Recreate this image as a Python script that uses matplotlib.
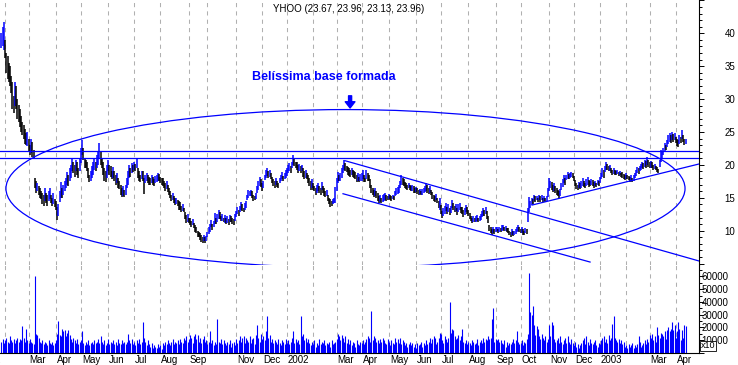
import numpy as np
import matplotlib
matplotlib.use("Agg")
import matplotlib.pyplot as plt
from matplotlib.patches import Ellipse

plt.rcParams['font.family'] = ['Liberation Sans', 'DejaVu Sans']

# daily highs / lows of YHOO, late Jan 2001 .. Apr 2003 (trading-day index)
hi = [40.0, 41.0, 41.7, 39.0, 37.0, 36.5, 35.5, 35.0, 33.5, 32.6,
      30.5, 32.6, 32.0, 30.0, 29.1, 28.5, 27.5, 26.5, 26.0, 25.5,
      24.8, 25.0, 24.0, 23.0, 24.0, 23.5, 22.2, 18.0, 17.5, 17.3,
      16.8, 16.5, 16.0, 15.8, 15.5, 16.5, 15.8, 15.5, 16.0, 16.5,
      15.5, 15.0, 15.8, 14.8, 14.5, 13.6, 14.0, 16.0, 17.4, 16.5,
      17.0, 17.5, 18.0, 18.9, 18.5, 19.5, 20.0, 21.0, 20.5, 20.0,
      20.8, 20.5, 19.5, 21.0, 22.5, 23.8, 22.5, 21.0, 20.8, 20.5,
      19.5, 18.5, 19.0, 19.8, 20.5, 21.0, 20.5, 21.5, 22.0, 23.3,
      22.0, 21.0, 20.5, 19.5, 19.0, 20.0, 20.7, 20.0, 19.8, 19.0,
      19.7, 19.0, 18.5, 18.8, 18.0, 17.5, 17.0, 16.5, 16.8, 16.2,
      17.0, 18.0, 19.0, 20.0, 19.5, 20.3, 20.0, 20.5, 20.2, 21.0,
      19.5, 19.0, 18.5, 19.0, 19.0, 18.0, 18.5, 18.8, 18.5, 18.2,
      18.0, 18.5, 18.2, 17.8, 18.3, 18.5, 18.8, 18.6, 18.2, 18.0,
      18.0, 17.5, 17.2, 17.5, 17.0, 16.5, 16.0, 15.5, 15.8, 15.2,
      15.0, 15.0, 14.7, 14.5, 14.4, 13.8, 14.0, 13.5, 12.8, 12.4,
      12.5, 12.0, 11.9, 11.5, 11.8, 11.2, 10.9, 10.5, 10.0, 9.8,
      9.6, 9.3, 9.0, 9.4, 9.0, 9.2, 9.8, 10.5, 11.0, 11.6,
      11.0, 11.5, 12.7, 12.0, 12.5, 13.2, 12.8, 12.2, 12.5, 12.0,
      12.4, 12.0, 12.3, 11.8, 12.4, 12.2, 12.0, 11.8, 12.5, 13.0,
      13.6, 13.2, 13.8, 14.4, 14.0, 13.5, 14.2, 14.5, 15.5, 16.2,
      16.0, 16.2, 16.0, 15.5, 15.2, 15.8, 16.8, 17.5, 18.2, 17.8,
      17.2, 17.6, 18.5, 19.2, 19.5, 19.0, 19.3, 18.8, 18.2, 17.8,
      17.5, 18.0, 17.6, 17.3, 18.0, 18.5, 18.9, 18.3, 18.8, 19.2,
      19.5, 20.0, 20.3, 19.8, 20.5, 21.5, 21.0, 20.5, 20.5, 20.0,
      20.2, 19.8, 20.0, 19.5, 19.0, 19.3, 18.8, 18.5, 18.0, 17.5,
      17.8, 17.2, 16.8, 16.5, 17.0, 17.2, 16.8, 16.5, 17.4, 16.8,
      16.5, 16.0, 16.2, 15.4, 15.0, 14.8, 14.5, 14.8, 15.0, 16.7,
      18.0, 18.9, 18.5, 18.8, 19.5, 20.0, 20.7, 20.3, 19.8, 19.7,
      19.5, 19.2, 19.6, 19.3, 19.0, 18.9, 18.5, 18.8, 18.2, 18.6,
      18.8, 19.2, 18.5, 18.0, 19.2, 18.8, 18.5, 17.8, 17.0, 16.5,
      16.2, 16.5, 16.0, 15.7, 15.2, 15.5, 15.0, 15.4, 15.6, 15.7,
      15.5, 15.3, 15.6, 15.4, 15.2, 15.5, 15.3, 16.0, 16.5, 16.7,
      17.0, 17.5, 18.5, 18.0, 17.8, 17.4, 17.2, 17.0, 17.3, 17.0,
      16.8, 17.0, 16.8, 16.5, 16.7, 16.5, 16.2, 16.4, 16.0, 16.3,
      16.5, 16.8, 17.2, 16.9, 16.5, 16.8, 16.2, 15.9, 15.5, 15.2,
      15.6, 15.0, 14.5, 15.0, 13.9, 13.0, 13.5, 13.8, 14.2, 13.6,
      14.0, 13.5, 13.8, 14.7, 14.2, 13.8, 14.0, 13.5, 14.0, 14.2,
      13.6, 13.6, 13.2, 13.5, 13.9, 13.6, 13.2, 12.7, 12.3, 12.0,
      12.2, 12.0, 12.2, 12.4, 12.0, 12.3, 12.5, 13.0, 13.4, 13.2,
      13.6, 13.0, 12.2, 10.9, 10.6, 10.3, 10.6, 10.2, 10.5, 10.6,
      10.3, 10.5, 10.4, 10.8, 10.9, 10.5, 10.7, 10.4, 10.4, 10.0,
      9.8, 10.2, 9.9, 10.0, 10.3, 10.6, 10.9, 10.5, 10.2, 10.5,
      10.2, 10.0, 10.4, 10.3, 13.5, 15.1, 14.5, 15.0, 14.8, 15.4,
      15.2, 15.3, 15.0, 15.4, 15.2, 15.4, 15.0, 15.3, 14.9, 15.2,
      16.5, 18.0, 17.5, 17.4, 17.0, 17.2, 16.8, 16.5, 16.2, 16.0,
      16.3, 17.2, 17.8, 18.5, 18.0, 18.5, 18.9, 18.6, 18.8, 18.9,
      18.7, 18.3, 17.7, 17.2, 17.0, 17.4, 17.2, 17.5, 18.0, 17.6,
      17.3, 17.8, 18.2, 17.7, 17.5, 17.9, 17.7, 17.4, 17.6, 17.3,
      17.7, 17.5, 18.2, 18.8, 19.5, 19.2, 19.8, 20.5, 20.2, 19.8,
      20.0, 19.6, 19.3, 19.5, 19.2, 19.0, 19.2, 18.9, 19.1, 18.8,
      18.9, 18.6, 18.4, 18.7, 18.5, 18.3, 18.2, 18.5, 18.0, 18.4,
      18.8, 19.3, 19.7, 19.5, 19.8, 20.2, 20.5, 20.3, 20.8, 20.6,
      21.2, 20.8, 20.5, 20.6, 20.5, 20.0, 20.2, 19.8, 19.7, 19.4,
      20.8, 22.3, 22.0, 22.5, 23.3, 23.0, 23.8, 24.5, 24.8, 24.5,
      25.0, 24.7, 24.8, 24.2, 24.0, 23.8, 24.6, 24.3, 25.3, 24.5,
      24.0, 23.96]

lo = [37.8, 38.0, 37.5, 36.2, 34.0, 33.0, 32.6, 32.0, 31.0, 28.5,
      27.9, 29.0, 28.5, 27.0, 26.5, 25.8, 25.0, 24.5, 24.0, 23.2,
      23.0, 22.8, 22.0, 21.5, 21.8, 21.2, 21.0, 16.5, 15.8, 16.0,
      15.5, 15.0, 14.8, 14.0, 13.8, 14.5, 14.2, 13.8, 14.5, 14.8,
      14.2, 13.8, 14.0, 13.6, 13.2, 11.6, 12.2, 14.4, 15.0, 15.0,
      15.5, 16.0, 16.5, 17.0, 16.8, 17.5, 18.0, 19.0, 18.8, 18.2,
      19.0, 18.5, 18.0, 19.0, 20.3, 21.5, 20.8, 19.5, 19.5, 19.0,
      18.0, 17.4, 17.5, 18.0, 18.5, 19.2, 19.0, 19.5, 20.0, 21.0,
      20.0, 19.5, 18.5, 17.5, 17.4, 18.0, 19.0, 18.5, 18.2, 17.8,
      18.0, 17.5, 17.0, 17.2, 16.5, 16.3, 15.5, 15.1, 15.3, 15.1,
      15.5, 16.5, 17.0, 18.0, 18.2, 18.8, 18.9, 19.2, 19.0, 19.5,
      18.0, 17.5, 17.4, 17.8, 17.5, 15.6, 17.2, 17.5, 17.2, 17.0,
      17.0, 17.3, 17.0, 16.8, 17.2, 17.4, 17.6, 17.5, 17.3, 17.0,
      16.8, 16.5, 16.0, 16.3, 15.9, 15.5, 15.0, 14.5, 14.6, 14.2,
      13.9, 14.0, 13.8, 13.2, 13.2, 12.9, 13.0, 12.9, 11.8, 11.2,
      11.4, 11.2, 10.8, 10.6, 10.9, 10.4, 9.8, 9.6, 9.0, 9.0,
      8.6, 8.3, 8.1, 8.4, 8.2, 8.5, 9.0, 9.5, 9.8, 10.5,
      10.1, 10.5, 11.0, 11.0, 11.4, 11.8, 11.8, 11.5, 11.5, 11.4,
      11.2, 11.0, 11.2, 10.9, 11.3, 11.3, 11.0, 10.9, 11.5, 12.1,
      12.5, 12.3, 12.9, 13.2, 13.0, 12.9, 13.2, 13.5, 14.7, 15.0,
      15.2, 15.3, 15.0, 14.5, 14.6, 14.8, 15.7, 16.2, 16.8, 16.6,
      16.0, 16.5, 17.7, 18.0, 18.3, 18.0, 18.2, 17.9, 17.2, 16.8,
      16.5, 17.0, 16.7, 16.5, 17.2, 17.5, 17.8, 17.5, 17.8, 18.0,
      18.3, 18.8, 19.0, 18.8, 19.5, 20.0, 19.8, 19.5, 19.2, 18.8,
      19.0, 18.8, 19.0, 18.2, 17.8, 18.0, 17.8, 17.3, 16.8, 16.2,
      16.5, 16.2, 16.0, 15.4, 15.8, 16.0, 15.8, 15.5, 16.2, 15.8,
      15.3, 15.1, 15.2, 14.5, 14.0, 13.6, 13.8, 14.0, 14.2, 14.2,
      16.0, 17.2, 17.5, 17.6, 18.0, 18.8, 19.2, 19.0, 18.9, 18.5,
      18.3, 18.2, 18.5, 18.2, 18.0, 17.8, 17.4, 17.6, 17.4, 17.5,
      17.6, 17.8, 17.4, 17.4, 17.8, 17.6, 17.5, 16.5, 15.8, 15.5,
      15.1, 15.3, 15.0, 14.5, 14.2, 14.4, 14.2, 14.3, 14.5, 14.7,
      14.5, 14.6, 14.8, 14.6, 14.5, 14.8, 14.6, 15.2, 15.4, 15.6,
      15.8, 16.5, 17.0, 17.0, 16.8, 16.5, 16.3, 16.2, 16.5, 16.2,
      16.0, 16.0, 15.8, 15.7, 15.9, 15.6, 15.4, 15.6, 15.4, 15.5,
      15.7, 15.9, 16.0, 15.8, 15.6, 15.8, 15.4, 14.8, 14.5, 14.4,
      14.6, 14.2, 13.5, 13.2, 12.5, 11.9, 12.2, 12.6, 13.0, 12.6,
      12.8, 12.4, 12.7, 13.5, 13.2, 12.9, 13.0, 12.4, 12.8, 13.1,
      12.7, 12.5, 12.1, 12.4, 12.8, 12.6, 12.3, 11.8, 11.5, 11.2,
      11.4, 11.3, 11.4, 11.5, 11.3, 11.5, 11.6, 12.1, 12.3, 12.2,
      12.5, 11.8, 11.2, 10.0, 9.6, 9.4, 9.7, 9.5, 9.8, 9.9,
      9.7, 9.8, 9.8, 10.0, 10.1, 9.9, 10.0, 9.8, 9.6, 9.3,
      9.0, 9.4, 9.2, 9.3, 9.5, 9.8, 10.0, 9.8, 9.6, 9.7,
      9.4, 9.3, 9.6, 9.5, 11.3, 12.8, 13.5, 13.9, 14.0, 14.5,
      14.4, 14.6, 14.4, 14.6, 14.4, 14.6, 14.4, 14.5, 14.4, 14.5,
      15.1, 16.0, 16.5, 16.2, 15.9, 16.0, 15.7, 15.5, 15.2, 15.0,
      15.3, 16.2, 16.7, 17.2, 17.0, 17.7, 17.9, 17.8, 18.0, 18.2,
      18.0, 17.5, 16.8, 16.3, 16.2, 16.5, 16.4, 16.5, 16.8, 16.7,
      16.5, 16.8, 17.0, 16.7, 16.8, 17.0, 16.8, 16.5, 16.8, 16.6,
      16.9, 16.8, 17.2, 17.8, 18.2, 18.0, 18.9, 19.2, 19.3, 19.0,
      19.0, 18.7, 18.5, 18.6, 18.5, 18.4, 18.6, 18.3, 18.5, 18.2,
      18.0, 17.9, 17.7, 17.9, 17.8, 17.7, 17.4, 17.6, 17.4, 17.6,
      18.0, 18.3, 18.7, 18.6, 19.0, 19.2, 19.5, 19.4, 19.7, 19.6,
      20.0, 19.7, 19.5, 19.6, 19.5, 19.3, 19.4, 19.3, 18.9, 18.8,
      19.7, 20.5, 21.0, 21.5, 22.0, 22.2, 22.7, 23.2, 23.5, 23.3,
      23.8, 23.5, 23.8, 23.3, 22.9, 22.7, 23.2, 23.4, 24.0, 23.5,
      23.0, 23.13]

# daily volume, in thousands of (x10) units
vol = [9, 11, 8, 10, 12, 9, 8, 13, 10, 9,
       11, 8, 10, 12, 9, 11, 10, 21, 12, 9,
       19, 10, 8, 11, 9, 8, 7, 60, 15, 14,
       12, 9, 8, 10, 7, 9, 8, 6, 10, 8,
       7, 9, 6, 8, 10, 15, 25, 14, 13, 19,
       17, 18, 13, 16, 18, 14, 11, 9, 12, 10,
       8, 11, 7, 9, 10, 17, 8, 6, 9, 7,
       10, 6, 8, 9, 7, 10, 8, 9, 11, 8,
       13, 9, 7, 10, 6, 8, 11, 7, 9, 8,
       10, 7, 9, 6, 11, 8, 7, 10, 8, 9,
       7, 9, 15, 10, 8, 11, 7, 9, 6, 10,
       8, 11, 7, 9, 24, 12, 9, 6, 10, 7,
       5, 8, 4, 6, 5, 4, 7, 5, 6, 3,
       8, 6, 9, 7, 10, 8, 6, 9, 11, 7,
       9, 8, 10, 7, 11, 9, 8, 12, 10, 13,
       9, 11, 14, 12, 8, 13, 15, 11, 14, 9,
       12, 8, 11, 13, 9, 10, 7, 9, 17, 8,
       10, 6, 9, 7, 27, 9, 8, 11, 7, 10,
       8, 6, 9, 7, 10, 5, 8, 9, 6, 11,
       8, 10, 13, 9, 12, 13, 8, 12, 10, 9,
       13, 8, 11, 12, 7, 14, 22, 12, 9, 15,
       11, 13, 10, 17, 29, 12, 14, 9, 11, 8,
       10, 9, 7, 11, 8, 6, 10, 9, 7, 11,
       8, 10, 7, 9, 12, 17, 8, 11, 9, 10,
       7, 29, 13, 15, 10, 12, 9, 11, 8, 6,
       9, 7, 10, 5, 8, 6, 11, 7, 9, 8,
       10, 6, 8, 7, 9, 5, 10, 7, 8, 9,
       11, 15, 13, 10, 14, 12, 9, 13, 8, 11,
       7, 10, 6, 9, 8, 5, 10, 7, 6, 9,
       8, 10, 7, 9, 11, 13, 12, 9, 33, 10,
       13, 12, 9, 10, 8, 11, 9, 12, 10, 8,
       7, 11, 9, 6, 10, 8, 7, 12, 9, 11,
       8, 12, 7, 10, 9, 6, 8, 5, 7, 9,
       6, 8, 5, 7, 4, 8, 6, 7, 9, 5,
       8, 6, 10, 7, 9, 12, 8, 11, 13, 12,
       7, 9, 12, 16, 15, 10, 8, 13, 11, 9,
       12, 40, 16, 19, 18, 13, 11, 12, 14, 10,
       13, 19, 9, 8, 10, 7, 9, 8, 6, 10,
       9, 7, 8, 11, 6, 9, 10, 8, 12, 9,
       11, 10, 13, 11, 12, 27, 35, 9, 11, 10,
       11, 9, 10, 8, 7, 10, 5, 9, 6, 8,
       7, 9, 11, 8, 10, 17, 9, 7, 8, 10,
       6, 9, 8, 11, 15, 63, 32, 30, 37, 22,
       14, 21, 19, 13, 11, 15, 12, 10, 13, 9,
       11, 22, 13, 24, 22, 11, 9, 10, 12, 8,
       13, 9, 7, 10, 12, 8, 13, 9, 7, 11,
       8, 6, 9, 5, 7, 4, 6, 8, 10, 12,
       7, 13, 9, 6, 11, 8, 7, 9, 10, 6,
       5, 8, 7, 10, 12, 13, 9, 11, 8, 14,
       10, 12, 23, 29, 12, 10, 9, 11, 8, 10,
       7, 9, 5, 6, 4, 7, 5, 6, 8, 4,
       6, 5, 7, 13, 9, 5, 6, 8, 10, 7,
       11, 9, 14, 12, 15, 10, 13, 9, 20, 14,
       12, 16, 15, 13, 17, 11, 18, 20, 17, 19,
       24, 18, 22, 12, 17, 24, 19, 10, 18, 12,
       22, 21]

# first trading day of each month (index) and its label
month_idx = [-18, 3, 22, 44, 64, 86, 107, 128, 151, 166, 189, 210, 230,
             251, 270, 290, 312, 334, 354, 376, 398, 418, 441, 461, 482,
             503, 522, 543]
month_lbl = ['2001', '', 'Mar', 'Apr', 'May', 'Jun', 'Jul', 'Aug', 'Sep', '',
             'Nov', 'Dec', '2002', '', 'Mar', 'Apr', 'May', 'Jun', 'Jul',
             'Aug', 'Sep', 'Oct', 'Nov', 'Dec', '2003', '', 'Mar', 'Apr']

price_ticks = [10, 15, 20, 25, 30, 35, 40]
vol_ticks = [10000, 20000, 30000, 40000, 50000, 60000]

BLUE = '#0000ff'
hi = np.array(hi)
lo = np.array(lo)
days = np.arange(len(hi))
mid = (hi + lo) / 2
up = np.r_[True, mid[1:] >= mid[:-1]]
cols = np.where(up, BLUE, 'black')

fig = plt.figure(figsize=(7.38, 3.65), dpi=100)
W = 699 / 738
ax = fig.add_axes([0, 1 - 265 / 365, W, 265 / 365])
axv = fig.add_axes([0, 1 - 353 / 365, W, 88 / 365])

xlim = (-1.05, 561.7)
for a in (ax, axv):
    a.set_xlim(*xlim)
    a.set_xticks([])
    a.spines['top'].set_visible(False)
    a.spines['left'].set_visible(False)
    a.spines['right'].set_linewidth(0.8)
    for m in month_idx[1:]:
        a.axvline(m, color='#b0b0b0', lw=0.75, ls=(0, (4, 4)), zorder=0)
ax.spines['bottom'].set_visible(False)
axv.spines['bottom'].set_linewidth(0.8)

# price bars
ax.vlines(days, lo, hi, colors=cols, lw=1.1, zorder=2)
ax.set_ylim(4.79, 45.06)
ax.yaxis.tick_right()
ax.set_yticks(np.arange(5, 46, 5))
ax.set_yticks(np.arange(5, 46, 1), minor=True)
ax.set_yticklabels(['' if t not in price_ticks else str(t) for t in range(5, 46, 5)])
ax.tick_params(axis='y', which='major', length=3.5, width=0.7, pad=15, labelsize=7)
ax.tick_params(axis='y', which='minor', length=2, width=0.7)

# trend lines, support/resistance, base ellipse
ax.axhline(22.16, color=BLUE, lw=0.9, zorder=3)
ax.axhline(21.0, color=BLUE, lw=0.9, zorder=3)
ax.plot([276.7, 561.7], [20.64, 5.4], color=BLUE, lw=0.9, zorder=3)
ax.plot([275.1, 474.0], [15.62, 5.24], color=BLUE, lw=0.9, zorder=3)
ax.plot([427.3, 561.7], [13.9, 20.14], color=BLUE, lw=0.9, zorder=3)
ax.add_patch(Ellipse((277.1, 16.41), 546.7, 24.0, fill=False, ec=BLUE, lw=0.9, zorder=3))

ax.text(0.4993, 0.966, 'YHOO (23.67, 23.96, 23.13, 23.96)', transform=ax.transAxes,
        ha='center', va='center', fontsize=7)
ax.text(259.8, 33.43, 'Belíssima base formada', color=BLUE, fontsize=9,
        fontweight='bold', ha='center', va='center')
ax.annotate('', xy=(280.8, 28.65), xytext=(280.8, 30.5),
            arrowprops=dict(facecolor=BLUE, edgecolor=BLUE, width=2.2,
                            headwidth=7, headlength=4.5, shrink=0))

# volume
axv.vlines(days, 0, np.array(vol) * 1000, colors=BLUE, lw=0.8)
axv.set_ylim(0, 69000)
axv.yaxis.tick_right()
axv.set_yticks([0] + vol_ticks)
axv.set_yticks(np.arange(0, 69000, 5000), minor=True)
axv.set_yticklabels([''] + [str(v) for v in vol_ticks])
axv.tick_params(axis='y', which='major', length=3.5, width=0.7, pad=-1.5, labelsize=7)
axv.tick_params(axis='y', which='minor', length=2, width=0.7)
axv.text(701 / 699, 0.08, 'x10', transform=axv.transAxes, fontsize=6.5,
         ha='left', va='center',
         bbox=dict(boxstyle='square,pad=0.1', fc='white', ec='black', lw=0.6))

for m, lbl in zip(month_idx, month_lbl):
    if lbl:
        axv.text(m + 0.8, -0.02, lbl, transform=axv.get_xaxis_transform(),
                 ha='left', va='top', fontsize=7)

fig.savefig('out.png', dpi=100)
